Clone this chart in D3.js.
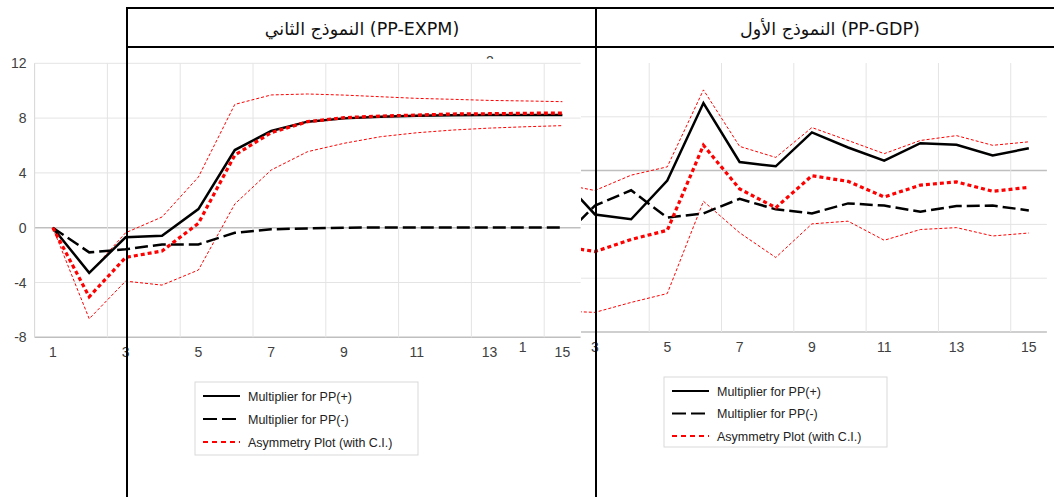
<!DOCTYPE html>
<html>
<head>
<meta charset="utf-8">
<script src="https://cdn.jsdelivr.net/npm/d3@7"></script>
<style>
  body { margin: 0; background: #fff; }
  svg { display: block; }
  .tick-lbl { font-family: "Liberation Sans", Arial, sans-serif; font-size: 14px; fill: #404040; }
  .leg-lbl { font-family: "Liberation Sans", Arial, sans-serif; font-size: 12.5px; fill: #222; }
  .head { font-family: "DejaVu Sans", sans-serif; font-size: 17.5px; fill: #111; }
</style>
</head>
<body>
<div id="chart"></div>
<script>
// periods of the impulse responses
const periods = [1, 2, 3, 4, 5, 6, 7, 8, 9, 10, 11, 12, 13, 14, 15];

// model 2 : PP-EXPM (left panel)
const expmPlus  = [0, -3.29, -0.70, -0.58, 1.36, 5.67, 7.06, 7.74, 7.98, 8.10, 8.18, 8.20, 8.22, 8.22, 8.22];
const expmMinus = [0, -1.80, -1.58, -1.22, -1.22, -0.37, -0.12, -0.05, 0.00, 0.02, 0.02, 0.02, 0.02, 0.02, 0.02];
const expmAsym  = [0, -5.04, -2.17, -1.70, 0.32, 5.30, 6.94, 7.74, 8.03, 8.15, 8.22, 8.30, 8.32, 8.35, 8.37];
const expmUpper = [0, -3.33, -0.37, 0.78, 3.70, 9.00, 9.69, 9.76, 9.68, 9.56, 9.44, 9.37, 9.29, 9.25, 9.20];
const expmLower = [0, -6.65, -3.90, -4.19, -3.09, 1.73, 4.21, 5.55, 6.16, 6.64, 6.93, 7.13, 7.27, 7.37, 7.45];
const expmTicks = [-8, -4, 0, 4, 8, 12];

// model 1 : PP-GDP (right panel, partly hidden)
const gdpPlus  = [0, -0.18, -1.63, -1.81, -0.37, 2.51, 0.32, 0.16, 1.42, 0.86, 0.37, 1.02, 0.96, 0.56, 0.83];
const gdpMinus = [0, -2.64, -1.30, -0.73, -1.75, -1.59, -1.05, -1.44, -1.59, -1.22, -1.30, -1.53, -1.32, -1.30, -1.48];
const gdpAsym  = [0, -2.79, -3.01, -2.56, -2.22, 0.94, -0.68, -1.38, -0.19, -0.40, -0.98, -0.54, -0.42, -0.77, -0.62];
const gdpUpper = [0, -0.48, -0.74, -0.17, 0.14, 3.00, 0.90, 0.49, 1.60, 1.12, 0.63, 1.12, 1.30, 0.94, 1.07];
const gdpLower = [0, -5.22, -5.27, -4.90, -4.57, -1.14, -2.31, -3.23, -1.98, -1.88, -2.59, -2.19, -2.12, -2.43, -2.32];
const gdpTicks = [-6, -4, -2, 0, 2];

const xLabels = [1, 3, 5, 7, 9, 11, 13, 15];
const legendNames = ["Multiplier for PP(+)", "Multiplier for PP(-)", "Asymmetry Plot (with C.I.)"];
const titles = ["النموذج الثاني (PP-EXPM)", "النموذج الأول (PP-GDP)"];

const W = 1054, H = 497;
const svg = d3.select("#chart").append("svg").attr("width", W).attr("height", H);

// line styles, shared by both panels
const styles = {
  upper: { stroke: "#ff0000", width: 1, dash: "3,2" },
  lower: { stroke: "#ff0000", width: 1, dash: "3,2" },
  minus: { stroke: "#000", width: 2.5, dash: "13,5" },
  plus:  { stroke: "#000", width: 2.5, dash: null },
  asym:  { stroke: "#ff0000", width: 3.2, dash: "4,3" }
};

function drawPanel(g, cfg) {
  const x = d3.scaleBand().domain(periods).range(cfg.xRange);
  const y = d3.scaleLinear().domain(cfg.yDomain).range(cfg.yRange);
  const cx = d => x(d) + x.bandwidth() / 2;

  const plot = g.append("g");
  if (cfg.clip) plot.attr("clip-path", "url(#" + cfg.clip + ")");

  // horizontal gridlines
  plot.selectAll(".hg").data(cfg.ticks).join("line")
    .attr("x1", cfg.xRange[0]).attr("x2", cfg.xRange[1])
    .attr("y1", d => y(d)).attr("y2", d => y(d))
    .attr("stroke", d => (d === 0 || d === cfg.yDomain[0]) ? "#bfbfbf" : "#e4e4e4")
    .attr("stroke-width", d => (d === 0 || d === cfg.yDomain[0]) ? 1.5 : 1);

  // vertical gridlines every second category
  plot.selectAll(".vg").data(xLabels).join("line")
    .attr("x1", d => x(d)).attr("x2", d => x(d))
    .attr("y1", y(cfg.yDomain[1])).attr("y2", y(cfg.yDomain[0]))
    .attr("stroke", "#e4e4e4");

  const line = d3.line().x((d, i) => cx(periods[i])).y(d => y(d));
  ["upper", "lower", "minus", "plus", "asym"].forEach(k => {
    const s = styles[k];
    plot.append("path").datum(cfg.series[k])
      .attr("d", line)
      .attr("fill", "none")
      .attr("stroke", s.stroke)
      .attr("stroke-width", s.width)
      .attr("stroke-dasharray", s.dash)
      .attr("stroke-linejoin", "miter");
  });

  // y labels
  if (cfg.yLabels) {
    g.selectAll(".yl").data(cfg.ticks).join("text")
      .attr("class", "tick-lbl")
      .attr("x", cfg.xRange[0] - 8).attr("y", d => y(d) + 5)
      .attr("text-anchor", "end")
      .text(d => d);
  }
  // x labels
  g.selectAll(".xl").data(xLabels).join("text")
    .attr("class", "tick-lbl")
    .attr("x", d => cx(d)).attr("y", cfg.xLabelY)
    .attr("text-anchor", "middle")
    .text(d => d);
}

function drawLegend(g, x0, y0, w, h, gap) {
  g.append("rect").attr("x", x0).attr("y", y0).attr("width", w).attr("height", h)
    .attr("fill", "#fff").attr("stroke", "#d9d9d9");
  const keys = ["plus", "minus", "asym"];
  keys.forEach((k, i) => {
    const yy = y0 + 14 + i * gap;
    g.append("line").attr("x1", x0 + 8).attr("x2", x0 + 45).attr("y1", yy).attr("y2", yy)
      .attr("stroke", styles[k].stroke)
      .attr("stroke-width", k === "asym" ? 2 : 2.2)
      .attr("stroke-dasharray", k === "plus" ? null : (k === "minus" ? "14,5" : "5,4"));
    g.append("text").attr("class", "leg-lbl").attr("x", x0 + 53).attr("y", yy + 4.5)
      .text(legendNames[i]);
  });
}

const defs = svg.append("defs");
defs.append("clipPath").attr("id", "clipR").append("rect")
  .attr("x", 581).attr("y", 0).attr("width", W - 581).attr("height", 340);
defs.append("clipPath").attr("id", "clipStray").append("rect")
  .attr("x", 470).attr("y", 48).attr("width", 40).attr("height", 11);

// right panel (PP-GDP), drawn first, its left part is covered
const right = svg.append("g");
drawPanel(right, {
  xRange: [504.6, 1046.9], yDomain: [-6, 4], yRange: [332, 63],
  ticks: gdpTicks, clip: "clipR", yLabels: false, xLabelY: 352,
  series: { plus: gdpPlus, minus: gdpMinus, asym: gdpAsym, upper: gdpUpper, lower: gdpLower }
});
// hidden y label peeking out above the left panel
right.append("text").attr("class", "tick-lbl").attr("clip-path", "url(#clipStray)")
  .attr("x", 490).attr("y", 66).attr("text-anchor", "middle").text("2");
drawLegend(right, 664, 377, 223, 70, 22.5);

// left panel (PP-EXPM)
const left = svg.append("g");
drawPanel(left, {
  xRange: [34.6, 580.6], yDomain: [-8, 12], yRange: [337.3, 63.3],
  ticks: expmTicks, clip: null, yLabels: true, xLabelY: 357,
  series: { plus: expmPlus, minus: expmMinus, asym: expmAsym, upper: expmUpper, lower: expmLower }
});
left.append("line").attr("x1", 34.6).attr("x2", 34.6).attr("y1", 63.3).attr("y2", 337.3)
  .attr("stroke", "#d9d9d9");
drawLegend(left, 195, 382, 223, 73, 23);

// table borders and headers
const tb = svg.append("g").attr("stroke", "#000").attr("stroke-width", 2);
tb.append("line").attr("x1", 126).attr("x2", W).attr("y1", 8).attr("y2", 8);
tb.append("line").attr("x1", 126).attr("x2", W).attr("y1", 47).attr("y2", 47);
tb.append("line").attr("x1", 127).attr("x2", 127).attr("y1", 7).attr("y2", H);
tb.append("line").attr("x1", 596).attr("x2", 596).attr("y1", 7).attr("y2", H);

svg.selectAll(".head").data(titles).join("text")
  .attr("class", "head")
  .attr("x", (d, i) => i === 0 ? 362 : 830)
  .attr("y", 35)
  .attr("text-anchor", "middle")
  .attr("direction", "ltr")
  .text(d => d);
</script>
</body>
</html>
